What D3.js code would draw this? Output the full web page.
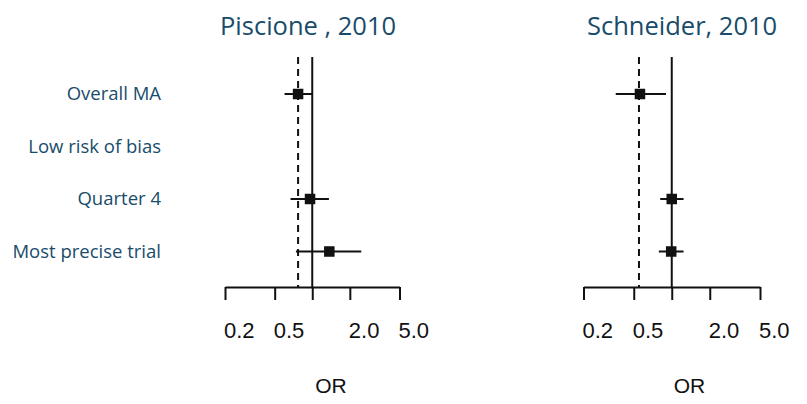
<!DOCTYPE html>
<html>
<head>
<meta charset="utf-8">
<script src="https://cdn.jsdelivr.net/npm/d3@7"></script>
<style>
  html, body { margin: 0; padding: 0; background: #fff; }
  svg { display: block; }
</style>
</head>
<body>
<svg id="chart" width="807" height="404"></svg>
<script>
// Subgroups shown on every panel (top to bottom)
const rows = ["Overall MA", "Low risk of bias", "Quarter 4", "Most precise trial"];

// Odds-ratio axis
const tickValues = [0.2, 0.5, 1, 2, 5];
const tickLabels = ["0.2", "0.5", "", "2.0", "5.0"];

// Piscione, 2010
const piscioneEst   = [0.77, null, 0.96, 1.37];
const piscioneLow   = [0.60, null, 0.67, 0.74];
const piscioneHigh  = [1.00, null, 1.36, 2.47];
const piscionePooled = 0.77;

// Schneider, 2010
const schneiderEst   = [0.56, null, 1.00, 0.99];
const schneiderLow   = [0.36, null, 0.81, 0.79];
const schneiderHigh  = [0.90, null, 1.24, 1.24];
const schneiderPooled = 0.55;

const panels = [
  { title: "Piscione , 2010", est: piscioneEst, low: piscioneLow, high: piscioneHigh, pooled: piscionePooled,
    x0: 225, x1: 399.5, titleX: 220 },
  { title: "Schneider, 2010", est: schneiderEst, low: schneiderLow, high: schneiderHigh, pooled: schneiderPooled,
    x0: 583.5, x1: 760, titleX: 587 }
];

const svg = d3.select("#chart");
const teal = "#184c6b";
const ink = "#111";
const axisY = 287;
const topY = 57;

const y = d3.scalePoint().domain(rows).range([94, 251.5]);

// Row labels
svg.append("g")
  .selectAll("text")
  .data(rows)
  .join("text")
  .attr("x", 161)
  .attr("y", d => y(d))
  .attr("dy", "0.35em")
  .attr("text-anchor", "end")
  .attr("font-family", "'Open Sans', sans-serif")
  .attr("font-size", 18.5)
  .attr("fill", teal)
  .text(d => d);

panels.forEach(p => {
  const x = d3.scaleLog().domain([0.2, 5]).range([p.x0, p.x1]);
  const g = svg.append("g");

  // Title
  g.append("text")
    .attr("x", p.titleX)
    .attr("y", 35)
    .attr("font-family", "'Open Sans', sans-serif")
    .attr("font-size", 25.5)
    .attr("fill", teal)
    .text(p.title);

  // Reference line at OR = 1
  g.append("line")
    .attr("x1", x(1)).attr("x2", x(1))
    .attr("y1", topY).attr("y2", axisY)
    .attr("stroke", ink).attr("stroke-width", 2);

  // Pooled estimate (dashed)
  g.append("line")
    .attr("x1", x(p.pooled)).attr("x2", x(p.pooled))
    .attr("y1", topY).attr("y2", axisY)
    .attr("stroke", ink).attr("stroke-width", 2)
    .attr("stroke-dasharray", "7,5");

  // Axis
  const axis = d3.axisBottom(x)
    .tickValues(tickValues)
    .tickSize(13)
    .tickSizeOuter(0)
    .tickFormat("");
  const ag = g.append("g")
    .attr("transform", `translate(0,${axisY})`)
    .call(axis);
  ag.selectAll("path, line").attr("stroke", ink).attr("stroke-width", 2);

  // Tick labels
  g.append("g")
    .selectAll("text")
    .data(tickValues.map((v, i) => ({ v, label: tickLabels[i] })).filter(d => d.label))
    .join("text")
    .attr("x", d => x(d.v) - 1)
    .attr("y", 338)
    .attr("font-family", "'Liberation Sans', Arial, sans-serif")
    .attr("font-size", 22)
    .attr("fill", ink)
    .text(d => d.label);

  // Axis title
  g.append("text")
    .attr("x", p.x0 + 106)
    .attr("y", 393)
    .attr("text-anchor", "middle")
    .attr("font-family", "'Liberation Sans', Arial, sans-serif")
    .attr("font-size", 21)
    .attr("fill", ink)
    .text("OR");

  // Confidence intervals and point estimates
  const pts = rows.map((r, i) => ({ r, est: p.est[i], low: p.low[i], high: p.high[i] }))
    .filter(d => d.est != null);

  g.append("g")
    .selectAll("line")
    .data(pts)
    .join("line")
    .attr("x1", d => x(d.low))
    .attr("x2", d => x(d.high))
    .attr("y1", d => y(d.r))
    .attr("y2", d => y(d.r))
    .attr("stroke", ink)
    .attr("stroke-width", 2);

  const s = 10.5;
  g.append("g")
    .selectAll("rect")
    .data(pts)
    .join("rect")
    .attr("x", d => x(d.est) - s / 2)
    .attr("y", d => y(d.r) - s / 2)
    .attr("width", s)
    .attr("height", s)
    .attr("fill", ink);
});
</script>
</body>
</html>
